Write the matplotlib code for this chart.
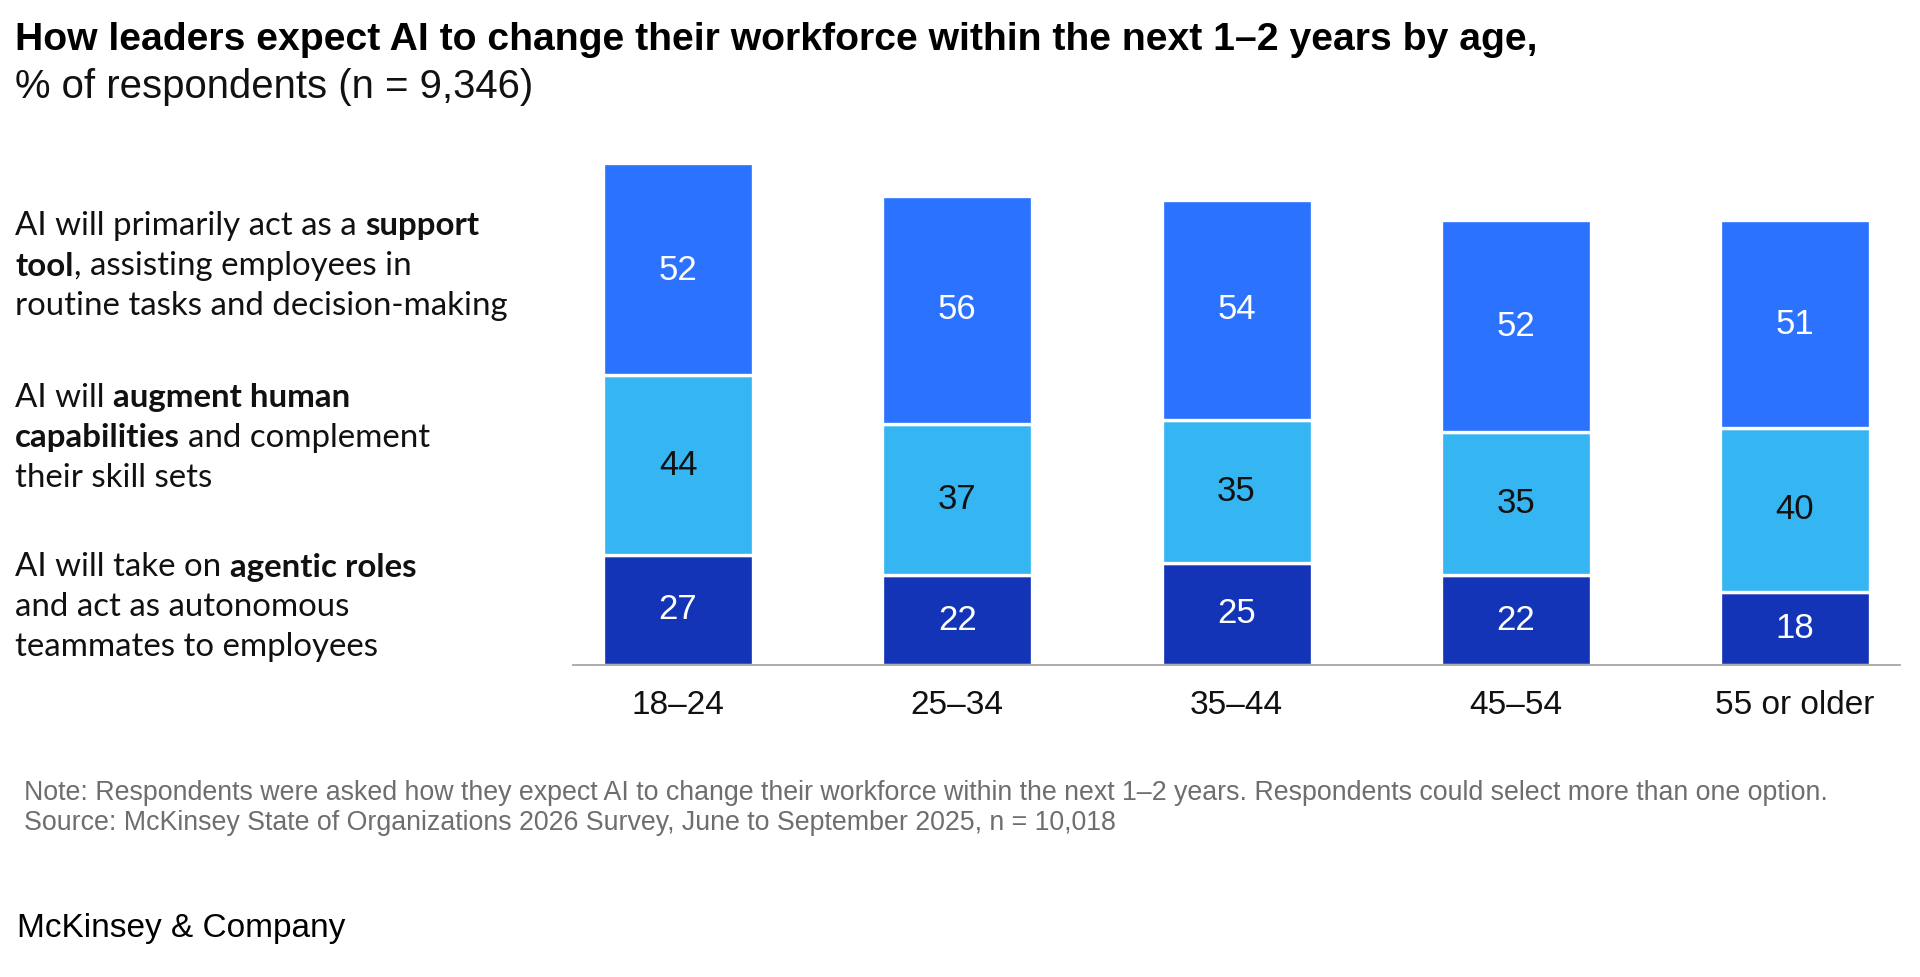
import matplotlib
matplotlib.use("Agg")
import matplotlib.pyplot as plt

# ---------------- data ----------------
categories = ["18–24", "25–34", "35–44", "45–54", "55 or older"]
agentic = [27, 22, 25, 22, 18]
augment = [44, 37, 35, 35, 40]
support = [52, 56, 54, 52, 51]

title = "How leaders expect AI to change their workforce within the next 1–2 years by age,"
subtitle = "% of respondents (n = 9,346)"
note = ("Note: Respondents were asked how they expect AI to change their workforce within the next 1–2 years. "
        "Respondents could select more than one option.")
source = "Source: McKinsey State of Organizations 2026 Survey, June to September 2025, n = 10,018"
brand = "McKinsey & Company"

legend_lines = [
    [[("AI will primarily act as a ", False), ("support", True)],
     [("tool", True), (", assisting employees in", False)],
     [("routine tasks and decision-making", False)]],
    [[("AI will ", False), ("augment human", True)],
     [("capabilities", True), (" and complement", False)],
     [("their skill sets", False)]],
    [[("AI will take on ", False), ("agentic roles", True)],
     [("and act as autonomous", False)],
     [("teammates to employees", False)]],
]

# ---------------- style ----------------
C_TOP = "#2B72FF"
C_MID = "#35B5F2"
C_BOT = "#1434B8"
W, H = 1920, 977
DPI = 100
FONT = "Liberation Sans"
LFONT = "Lato"

fig = plt.figure(figsize=(W / DPI, H / DPI), dpi=DPI)
fig.patch.set_facecolor("white")
renderer = fig.canvas.get_renderer()


def px(x, y):
    return x / W, 1 - y / H


def fit_text(x, y, s, target_w, **kw):
    t = fig.text(*px(x, y), s, **kw)
    t.set_fontsize(20)
    w = t.get_window_extent(renderer).width
    t.set_fontsize(20 * target_w / w)
    return t


def text_width(s, size, bold, family):
    t = fig.text(0, 0, s, fontsize=size, fontweight="bold" if bold else "normal", family=family)
    w = t.get_window_extent(renderer).width
    t.remove()
    return w


# title & subtitle
fit_text(15, 40, title, 1522, family=FONT, fontweight="bold", color="#000000", va="center", ha="left")
fit_text(15, 87, subtitle, 518, family=FONT, color="#111111", va="center", ha="left")

# legend text (mixed bold)
tmp = fig.text(0, 0, "routine tasks and decision-making", family=LFONT, fontsize=20)
lsize = 20 * 494 / tmp.get_window_extent(renderer).width
tmp.remove()
space_w = text_width("a a", lsize, False, LFONT) - text_width("aa", lsize, False, LFONT)
block_y = [226, 398, 567]
for by, block in zip(block_y, legend_lines):
    for li, runs in enumerate(block):
        y = by + li * 40
        x = 15
        for s, b in runs:
            lead = len(s) - len(s.lstrip(" "))
            trail = len(s) - len(s.rstrip(" "))
            core = s.strip(" ")
            x += lead * space_w
            fig.text(*px(x, y), core, family=LFONT, fontsize=lsize,
                     fontweight="bold" if b else "normal", color="#111111",
                     va="center", ha="left")
            x += text_width(core, lsize, b, LFONT) + trail * space_w

# ---------------- bars ----------------
ax_l, ax_r, ax_t, ax_b = 573, 1900, 165, 665
ax = fig.add_axes([ax_l / W, 1 - ax_b / H, (ax_r - ax_l) / W, (ax_b - ax_t) / H])
xs = list(range(len(categories)))
unit = 279.25
ax.set_xlim(-(678 - ax_l) / unit, 4 + (ax_r - 1795) / unit)
ax.set_ylim(0, 123 * (ax_b - ax_t) / (664 - 162))
bw = 150 / unit
lw = 2.4

b1 = ax.bar(xs, agentic, width=bw, color=C_BOT, edgecolor="white", linewidth=lw)
bottom2 = agentic
b2 = ax.bar(xs, augment, width=bw, bottom=bottom2, color=C_MID, edgecolor="white", linewidth=lw)
bottom3 = [a + b for a, b in zip(agentic, augment)]
b3 = ax.bar(xs, support, width=bw, bottom=bottom3, color=C_TOP, edgecolor="white", linewidth=lw)

vsize = 25
ax.bar_label(b1, labels=[str(v) for v in agentic], label_type="center", color="white",
             fontsize=vsize, family=FONT)
ax.bar_label(b2, labels=[str(v) for v in augment], label_type="center", color="#111111",
             fontsize=vsize, family=FONT)
ax.bar_label(b3, labels=[str(v) for v in support], label_type="center", color="white",
             fontsize=vsize, family=FONT)

for sp in ["top", "left", "right"]:
    ax.spines[sp].set_visible(False)
ax.spines["bottom"].set_color("#a6a6a6")
ax.spines["bottom"].set_linewidth(1.3)
ax.set_yticks([])
ax.set_xticks(xs)
ax.set_xticklabels(categories, fontsize=24, family=FONT, color="#111111")
ax.tick_params(axis="x", length=0, pad=18)
ax.set_facecolor("none")

# footnotes
fit_text(24, 793, note, 1797, family=FONT, color="#6e6e6e", va="center", ha="left")
fs_note = fig.texts[-1].get_fontsize()
fig.text(*px(24, 823), source, family=FONT, color="#6e6e6e", fontsize=fs_note, va="center", ha="left")
fit_text(17, 928, brand, 327, family=FONT, color="#000000", va="center", ha="left")

fig.savefig("out.png", dpi=DPI, facecolor="white")
